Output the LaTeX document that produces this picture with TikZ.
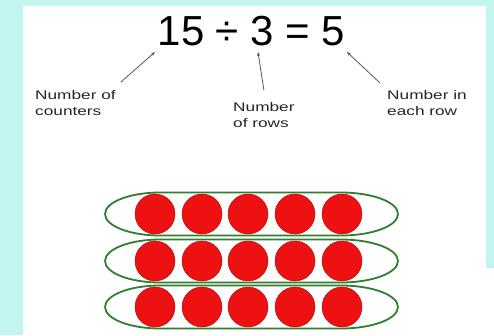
\documentclass[tikz,border=0pt]{standalone}
\usepackage{fontspec}
\setmainfont{Liberation Sans}
\newfontfamily\labelfont[FakeStretch=1.38]{Liberation Sans}
\usepackage{xcolor}
\usetikzlibrary{arrows.meta, positioning, calc}

\definecolor{bgcyan}{HTML}{C2F5F0}
\definecolor{ctrred}{HTML}{EE1111}
\definecolor{ctredge}{HTML}{B01010}
\definecolor{rowgreen}{HTML}{2F7F2F}
\definecolor{arrgray}{HTML}{555555}

\begin{document}
\begin{tikzpicture}[
    x=1pt, y=-1pt,
    lab/.style={font=\labelfont\fontsize{12.5}{16}\selectfont, align=left,
                inner sep=0pt, text=black!85},
    arr/.style={-{Stealth[length=4pt,width=3pt]}, draw=arrgray, line width=0.8pt},
    rowring/.style={draw=rowgreen, line width=1.8pt},
    counter/.style={circle, fill=ctrred, draw=ctredge, line width=0.5pt,
                    minimum size=40pt, inner sep=0pt},
  ]
  \useasboundingbox (0,0) rectangle (494,335);

  % background panel
  \fill[bgcyan] (0,0) rectangle (494,335);
  \fill[white] (23,6) -- (486,6) -- (486,268) -- (494,268) -- (494,335) -- (23,335) -- cycle;

  % equation
  \node[anchor=base, inner sep=0pt, font=\fontsize{42}{48}\selectfont] (eq) at (251.5,45)
       {15 ÷ 3 = 5};
  \coordinate (tip15) at (155,52);
  \coordinate (tip3)  at (258,52);
  \coordinate (tip5)  at (347,52);

  % labels
  \node[lab, anchor=north west] (cnt)  at (35,90)   {Number of\\counters};
  \node[lab, anchor=north west] (rows) at (233,102) {Number\\of rows};
  \node[lab, anchor=north west] (each) at (387,90)  {Number in\\each row};

  \draw[arr] ([shift={(5,-8)}]cnt.north east) -- (tip15);
  \draw[arr] ([shift={(0,-12)}]rows.north) -- (tip3);
  \draw[arr] ([shift={(-7,-7)}]each.north west) -- (tip5);

  % rows of counters, each inside a long green ring
  \foreach \r/\yy in {1/214, 2/261, 3/307} {
    \draw[rowring] (160,\yy-21.5) -- (341,\yy-21.5)
       arc[start angle=-90, end angle=90, x radius=57, y radius=21.5]
       -- (160,\yy+21.5)
       arc[start angle=90, end angle=270, x radius=55, y radius=21.5] -- cycle;
    \foreach \c/\xx in {1/155, 2/202, 3/248, 4/295, 5/342}
      \node[counter] (c\r\c) at (\xx,\yy) {};
  }

\end{tikzpicture}
\end{document}
